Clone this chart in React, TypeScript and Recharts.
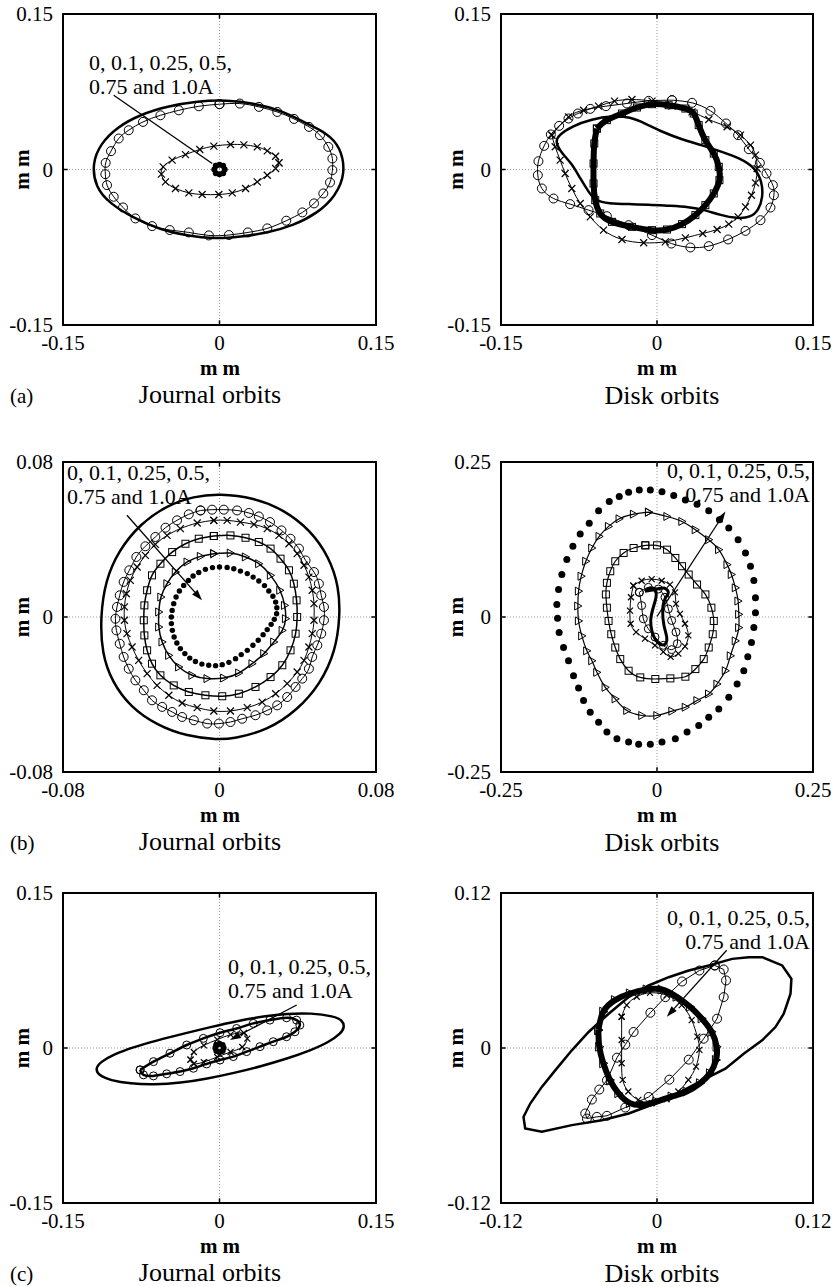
import React from "react";
import {
  ScatterChart,
  Scatter,
  XAxis,
  YAxis,
  ReferenceLine,
  ReferenceArea,
} from "recharts";

const SERIF = '"Liberation Serif", "Times New Roman", serif';

// ---- (a) journal orbits, mm ----
const aJournalSolid = [[0.121,-0.004],[0.116,0.022],[0.103,0.035],[0.084,0.044],[0.062,0.056],[0.033,0.064],[0.007,0.067],[-0.021,0.066],[-0.05,0.061],[-0.076,0.053],[-0.098,0.041],[-0.114,0.025],[-0.122,0.006],[-0.119,-0.017],[-0.105,-0.033],[-0.082,-0.047],[-0.057,-0.058],[-0.031,-0.064],[-0.005,-0.067],[0.02,-0.065],[0.046,-0.061],[0.071,-0.054],[0.094,-0.042],[0.111,-0.026]];
const aJournalCircle = [[0,0.063],[0.0195,0.0636],[0.0378,0.0604],[0.0554,0.0555],[0.0714,0.0488],[0.0858,0.0411],[0.0963,0.0331],[0.1043,0.0218],[0.1082,0.0106],[0.1082,-0.0006],[0.1059,-0.0125],[0.0995,-0.0231],[0.0906,-0.0327],[0.0794,-0.0414],[0.064,-0.0494],[0.0458,-0.0568],[0.0272,-0.0607],[0.009,-0.0632],[-0.0102,-0.0636],[-0.0294,-0.0607],[-0.0477,-0.0584],[-0.0646,-0.0546],[-0.0806,-0.0472],[-0.0925,-0.0366],[-0.1014,-0.0263],[-0.1078,-0.0151],[-0.1094,-0.0045],[-0.1091,0.0064],[-0.104,0.0177],[-0.0966,0.0299],[-0.087,0.0379],[-0.0733,0.0459],[-0.0566,0.0523],[-0.039,0.0571],[-0.0198,0.061]];
const aJournalCross = [[0.057,0.0064],[0.0538,0.0128],[0.0458,0.018],[0.0362,0.0218],[0.0234,0.0238],[0.0106,0.0241],[-0.0054,0.0225],[-0.0189,0.0193],[-0.0326,0.0144],[-0.0454,0.009],[-0.054,0.0026],[-0.0557,-0.0045],[-0.0518,-0.0119],[-0.0422,-0.0183],[-0.0294,-0.0225],[-0.0166,-0.0241],[-0.0006,-0.0241],[0.0122,-0.0225],[0.025,-0.0183],[0.0362,-0.0119],[0.0458,-0.0055],[0.0538,0.001]];
const aJournalCore = [[-0.0035,0.0035],[0,0.0045],[0.0035,0.0035],[0.005,0],[0.0035,-0.0035],[0,-0.0045],[-0.0035,-0.0035],[-0.005,0]];

// ---- (a) disk orbits ----
const aDiskCircle = [[0.0144,0.0669],[0.0337,0.0643],[0.0514,0.0566],[0.0664,0.0444],[0.078,0.0331],[0.0883,0.0196],[0.0989,0.0064],[0.1053,-0.0039],[0.1114,-0.0151],[0.1124,-0.0248],[0.1091,-0.0367],[0.0995,-0.0489],[0.0851,-0.0592],[0.0684,-0.0675],[0.0498,-0.0739],[0.0321,-0.0752],[0.0138,-0.0714],[-0.0048,-0.0633],[-0.0273,-0.0537],[-0.0482,-0.045],[-0.0658,-0.0392],[-0.0835,-0.0334],[-0.0995,-0.028],[-0.1107,-0.0183],[-0.1146,-0.0055],[-0.114,0.008],[-0.1085,0.0228],[-0.1021,0.0338],[-0.0941,0.0421],[-0.0851,0.0492],[-0.0761,0.054],[-0.0642,0.0585],[-0.0491,0.0611],[-0.0289,0.0637],[-0.008,0.0662]];
const aDiskCross = [[-0.1011,0.0331],[-0.0979,0.0219],[-0.0931,0.009],[-0.0883,-0.0039],[-0.0819,-0.0183],[-0.0738,-0.0328],[-0.0642,-0.0457],[-0.0514,-0.0585],[-0.0337,-0.0675],[-0.0128,-0.0707],[0.008,-0.0698],[0.0273,-0.0659],[0.044,-0.0617],[0.0578,-0.0579],[0.069,-0.0527],[0.078,-0.0457],[0.0851,-0.036],[0.0908,-0.0248],[0.0947,-0.0129],[0.0963,0.001],[0.0947,0.0138],[0.0899,0.0235],[0.0803,0.0331],[0.0674,0.0412],[0.0498,0.0482],[0.0337,0.0556],[0.0144,0.0611],[-0.0048,0.0659],[-0.0241,0.0675],[-0.0408,0.0659],[-0.0562,0.0611],[-0.0706,0.0572],[-0.0851,0.0508]];
const aDiskSolid = [[-0.0979,0.0267],[-0.0947,0.0331],[-0.0819,0.0418],[-0.0626,0.0485],[-0.0433,0.0518],[-0.0257,0.0508],[-0.0112,0.0444],[0.0048,0.0363],[0.0241,0.0289],[0.0433,0.0235],[0.0626,0.017],[0.0803,0.0106],[0.0941,0.0019],[0.1011,-0.0119],[0.1018,-0.0264],[0.0979,-0.0392],[0.0899,-0.0463],[0.077,-0.0473],[0.061,-0.044],[0.0465,-0.0392],[0.0305,-0.036],[0.0112,-0.035],[-0.008,-0.0338],[-0.0273,-0.0334],[-0.0465,-0.0328],[-0.0594,-0.0302],[-0.0658,-0.0215],[-0.0738,-0.0087],[-0.0819,0.0058],[-0.0915,0.0154]];
const aDiskBand = [[-0.0578,0.0395],[-0.0482,0.0476],[-0.0337,0.054],[-0.0193,0.0598],[-0.0048,0.063],[0.0112,0.062],[0.0273,0.0588],[0.0353,0.054],[0.0401,0.0428],[0.0465,0.0283],[0.0546,0.0154],[0.0594,0.0026],[0.06,-0.0103],[0.0546,-0.0231],[0.0465,-0.0344],[0.0369,-0.044],[0.0241,-0.0527],[0.0096,-0.0579],[-0.0048,-0.0585],[-0.0241,-0.0553],[-0.0433,-0.0505],[-0.0546,-0.0424],[-0.0594,-0.0296],[-0.061,-0.0135],[-0.061,0.0058],[-0.0603,0.0251]];

// ---- (b) journal orbits ----
const bJournalSolid = [[0,0.0636],[0.0176,0.0616],[0.0329,0.0554],[0.0466,0.0447],[0.056,0.031],[0.0611,0.0155],[0.0616,0],[0.0594,-0.0172],[0.0517,-0.0344],[0.0397,-0.0482],[0.0244,-0.0585],[0.0073,-0.0628],[-0.0012,-0.0633],[-0.0165,-0.0616],[-0.0319,-0.0559],[-0.0456,-0.0464],[-0.0549,-0.0335],[-0.0601,-0.0189],[-0.0609,0],[-0.0583,0.0189],[-0.0515,0.0344],[-0.0404,0.0482],[-0.0268,0.0576],[-0.0131,0.0623]];
const bJournalCircle = [[-0.0097,0.055],[-0.0038,0.0554],[0.0022,0.0554],[0.009,0.055],[0.015,0.0537],[0.0201,0.0519],[0.0258,0.049],[0.0317,0.0447],[0.0363,0.0404],[0.0406,0.0353],[0.044,0.0292],[0.0483,0.0232],[0.0508,0.0172],[0.052,0.0112],[0.0534,0.0052],[0.0534,-0.0017],[0.052,-0.0086],[0.05,-0.0146],[0.0474,-0.0206],[0.0457,-0.0267],[0.0423,-0.0318],[0.0389,-0.0361],[0.0346,-0.0413],[0.0295,-0.0456],[0.0244,-0.0482],[0.0184,-0.0507],[0.0116,-0.0525],[0.0056,-0.0542],[-0.0003,-0.055],[-0.0063,-0.055],[-0.0131,-0.0533],[-0.0191,-0.0516],[-0.0242,-0.049],[-0.0293,-0.0464],[-0.0345,-0.043],[-0.0387,-0.0378],[-0.043,-0.0327],[-0.0464,-0.0267],[-0.049,-0.0206],[-0.051,-0.0138],[-0.0527,-0.0069],[-0.0532,-0.0009],[-0.0524,0.0052],[-0.051,0.0112],[-0.049,0.0181],[-0.0461,0.0241],[-0.0425,0.031],[-0.0379,0.0365],[-0.0328,0.0413],[-0.0276,0.0461],[-0.0217,0.0499],[-0.0157,0.053]];
const bJournalCross = [[-0.0029,0.0499],[0.0039,0.0499],[0.0107,0.049],[0.0176,0.0478],[0.0244,0.0456],[0.0304,0.0421],[0.0355,0.0378],[0.0397,0.0327],[0.0432,0.0267],[0.0457,0.0206],[0.0474,0.0138],[0.0483,0.0069],[0.0483,-0.0017],[0.0474,-0.0086],[0.0457,-0.0155],[0.0432,-0.0224],[0.0397,-0.0284],[0.0346,-0.0344],[0.0287,-0.0396],[0.0218,-0.0439],[0.0142,-0.0468],[0.0056,-0.0485],[-0.0029,-0.0485],[-0.0114,-0.0468],[-0.0191,-0.0444],[-0.0259,-0.0404],[-0.0319,-0.0353],[-0.037,-0.0292],[-0.0413,-0.0224],[-0.0447,-0.0155],[-0.0473,-0.0086],[-0.0486,-0.0017],[-0.0486,0.0052],[-0.0476,0.012],[-0.0456,0.0189],[-0.0421,0.0258],[-0.0379,0.0318],[-0.0328,0.0375],[-0.0268,0.0421],[-0.02,0.0456],[-0.0114,0.0485]];
const bJournalSquare = [[-0.0029,0.0418],[0.0056,0.0421],[0.0133,0.0409],[0.0201,0.0387],[0.0261,0.0353],[0.0312,0.0301],[0.0355,0.0241],[0.038,0.0172],[0.0394,0.0086],[0.0397,0],[0.0389,-0.0086],[0.0363,-0.0172],[0.0321,-0.0249],[0.0261,-0.031],[0.0184,-0.0361],[0.0099,-0.0396],[0.0014,-0.0409],[-0.0072,-0.0404],[-0.0157,-0.0387],[-0.0234,-0.0353],[-0.0302,-0.0301],[-0.0345,-0.0241],[-0.037,-0.0172],[-0.0384,-0.0095],[-0.0387,-0.0017],[-0.0384,0.006],[-0.037,0.0138],[-0.0345,0.0215],[-0.0302,0.0275],[-0.0242,0.0335],[-0.0174,0.0378],[-0.0106,0.0404]];
const bJournalTri = [[-0.0029,0.0327],[0.0056,0.033],[0.0133,0.031],[0.0201,0.0275],[0.0261,0.0215],[0.0309,0.0138],[0.0333,0.006],[0.0338,-0.0009],[0.0321,-0.0069],[0.0278,-0.0129],[0.0227,-0.0189],[0.0167,-0.0241],[0.0099,-0.0289],[0.0022,-0.0315],[-0.0063,-0.0318],[-0.014,-0.0301],[-0.0208,-0.0258],[-0.0259,-0.0198],[-0.0293,-0.0129],[-0.031,-0.0052],[-0.031,0.0026],[-0.0299,0.0103],[-0.0268,0.0172],[-0.0225,0.0232],[-0.0165,0.0284],[-0.0097,0.0313]];
const bJournalDot = [[0,0.0258],[0.0039,0.0256],[0.0073,0.0249],[0.0107,0.0237],[0.0142,0.0224],[0.0172,0.0206],[0.0201,0.0186],[0.023,0.0162],[0.0252,0.0134],[0.0273,0.0107],[0.0287,0.0077],[0.0293,0.0048],[0.0292,0.0017],[0.028,-0.0012],[0.0264,-0.0038],[0.0244,-0.0065],[0.0223,-0.0091],[0.0198,-0.012],[0.0171,-0.0146],[0.0142,-0.0172],[0.0111,-0.0194],[0.0082,-0.0215],[0.0048,-0.0234],[0.0014,-0.0246],[-0.002,-0.0251],[-0.0055,-0.0249],[-0.009,-0.0243],[-0.0123,-0.023],[-0.0152,-0.0212],[-0.0177,-0.0189],[-0.02,-0.0163],[-0.0218,-0.0134],[-0.0232,-0.0103],[-0.0241,-0.0069],[-0.0246,-0.0034],[-0.0246,0],[-0.0242,0.0034],[-0.0234,0.0069],[-0.0222,0.0103],[-0.0205,0.0134],[-0.0183,0.0163],[-0.0159,0.0189],[-0.0135,0.0212],[-0.0106,0.023],[-0.0072,0.0246],[-0.0036,0.0255]];

// ---- (b) disk orbits ----
const bDiskDot = [[-0.0107,0.2049],[0.008,0.2022],[0.0268,0.1958],[0.0455,0.1889],[0.0642,0.1819],[0.0829,0.1712],[0.1,0.1568],[0.115,0.1434],[0.13,0.1247],[0.1418,0.1033],[0.1498,0.0819],[0.1552,0.0589],[0.1578,0.031],[0.1578,0.007],[0.1552,-0.0171],[0.1514,-0.0412],[0.1455,-0.0642],[0.1391,-0.0867],[0.1284,-0.1081],[0.115,-0.1295],[0.099,-0.1482],[0.0829,-0.1616],[0.0669,-0.1749],[0.0482,-0.1856],[0.0294,-0.1963],[0.008,-0.2017],[-0.0107,-0.2054],[-0.0294,-0.2054],[-0.0455,-0.2017],[-0.0642,-0.1963],[-0.0803,-0.1856],[-0.0936,-0.1696],[-0.107,-0.1535],[-0.1177,-0.1348],[-0.1257,-0.1145],[-0.1338,-0.0947],[-0.1418,-0.0706],[-0.1498,-0.0492],[-0.1568,-0.0251],[-0.1594,-0.0021],[-0.1605,0.0203],[-0.1578,0.0444],[-0.1525,0.0685],[-0.1445,0.0926],[-0.1348,0.114],[-0.1231,0.1338],[-0.1086,0.1514],[-0.0936,0.1712],[-0.0765,0.1862],[-0.0605,0.1942],[-0.0455,0.2012],[-0.0284,0.2049]];
const bDiskTri = [[-0.0134,0.1691],[-0.0375,0.1659],[-0.0605,0.1584],[-0.0776,0.1461],[-0.0926,0.13],[-0.1043,0.1113],[-0.114,0.0899],[-0.1214,0.0658],[-0.1257,0.0417],[-0.1268,0.0177],[-0.1257,-0.0064],[-0.1204,-0.0305],[-0.1124,-0.0546],[-0.1043,-0.0706],[-0.0963,-0.0893],[-0.0829,-0.1134],[-0.0669,-0.1321],[-0.0482,-0.1509],[-0.0241,-0.1589],[0,-0.1589],[0.0241,-0.1519],[0.0455,-0.1455],[0.0642,-0.1348],[0.0829,-0.1241],[0.0963,-0.1081],[0.1097,-0.0867],[0.1177,-0.0626],[0.1257,-0.0385],[0.1311,-0.0171],[0.1311,0.0043],[0.13,0.0257],[0.1257,0.0471],[0.1193,0.0685],[0.1124,0.0845],[0.099,0.1086],[0.0829,0.1247],[0.0615,0.1407],[0.0401,0.1541],[0.0161,0.1621]];
const bDiskSquare = [[-0.0187,0.1156],[-0.0375,0.1113],[-0.0535,0.1033],[-0.0669,0.0899],[-0.0749,0.0738],[-0.0803,0.0551],[-0.0819,0.0364],[-0.0803,0.015],[-0.0776,-0.0064],[-0.0733,-0.0278],[-0.0669,-0.0492],[-0.0589,-0.0679],[-0.0455,-0.0867],[-0.0268,-0.0974],[-0.0027,-0.1],[0.0214,-0.099],[0.0455,-0.0963],[0.0615,-0.084],[0.0749,-0.0679],[0.0829,-0.0492],[0.0893,-0.0278],[0.091,-0.0064],[0.0872,0.015],[0.0776,0.0364],[0.0642,0.0524],[0.0508,0.0685],[0.0401,0.0819],[0.0294,0.0952],[0.0161,0.1086],[0,0.1156]];
const bDiskCross = [[-0.0379,0.0505],[-0.0246,0.0585],[-0.0085,0.0611],[0.0075,0.0585],[0.0208,0.0521],[0.0288,0.0398],[0.0304,0.0211],[0.0368,0.0051],[0.0449,-0.0109],[0.0502,-0.0296],[0.0449,-0.0473],[0.0342,-0.059],[0.0219,-0.0643],[0.0101,-0.0563],[-0.0032,-0.0457],[-0.0192,-0.035],[-0.0336,-0.0243],[-0.0422,-0.0109],[-0.0433,0.0104],[-0.0417,0.0318]];
const bDiskCircle = [[-0.0283,0.0398],[-0.0246,0.0184],[-0.0219,-0.0029],[-0.0139,-0.019],[-0.0032,-0.0323],[0.0101,-0.0457],[0.0235,-0.0526],[0.0326,-0.043],[0.0304,-0.0243],[0.0235,-0.0056],[0.0182,0.0131],[0.0128,0.0318],[0.0021,0.0451],[-0.0139,0.0478]];
const bDiskSolid = [[-0.0192,0.0414],[-0.0112,0.0467],[-0.0032,0.0435],[-0.0016,0.0318],[-0.0059,0.0158],[-0.0101,-0.0056],[-0.0069,-0.027],[0.0021,-0.0419],[0.0128,-0.0441],[0.0155,-0.0323],[0.0112,-0.0136],[0.0091,0.0104],[0.0128,0.0291],[0.0182,0.0398],[0.0112,0.0467],[0.0005,0.0451]];

// ---- (c) journal orbits ----
const cJournalSolid = [[0.1098,0.0307],[0.1178,0.0268],[0.12,0.0203],[0.1162,0.0139],[0.105,0.0058],[0.0874,-0.0023],[0.065,-0.0103],[0.0394,-0.0178],[0.0138,-0.0242],[-0.0118,-0.0297],[-0.0374,-0.0339],[-0.063,-0.0355],[-0.0854,-0.0346],[-0.1046,-0.0313],[-0.1158,-0.0265],[-0.119,-0.02],[-0.1142,-0.0136],[-0.1014,-0.0061],[-0.0822,0.001],[-0.0598,0.0074],[-0.0342,0.0139],[-0.0086,0.0203],[0.017,0.0262],[0.0426,0.0307],[0.065,0.0333],[0.0874,0.0339]];
const cJournalCircle = [[-0.0761,-0.0212],[-0.0633,-0.0132],[-0.0474,-0.0051],[-0.0314,0.0029],[-0.0155,0.0093],[0.0005,0.0148],[0.0164,0.0189],[0.0324,0.0238],[0.0483,0.027],[0.0643,0.0292],[0.0739,0.027],[0.077,0.0221],[0.0723,0.0157],[0.0643,0.0109],[0.0515,0.0061],[0.0388,0.0013],[0.026,-0.0035],[0.0132,-0.0083],[0.0005,-0.0116],[-0.0123,-0.0154],[-0.025,-0.0196],[-0.0378,-0.0228],[-0.0506,-0.025],[-0.0633,-0.027],[-0.0729,-0.026]];
const cJournalCross = [[-0.0278,-0.0113],[-0.0246,-0.0039],[-0.015,0.0026],[-0.0022,0.0081],[0.0106,0.0129],[0.0234,0.0145],[0.0266,0.009],[0.0218,0.001],[0.0106,-0.0039],[-0.0022,-0.0087],[-0.015,-0.0136],[-0.0246,-0.0152]];
const cJournalCore = [[-0.003,0.003],[0,0.004],[0.003,0.003],[0.004,0],[0.003,-0.003],[0,-0.004],[-0.003,-0.003],[-0.004,0]];

// ---- (c) disk orbits ----
const cDiskSolid = [[0.0809,0.0703],[0.0963,0.0639],[0.1034,0.0536],[0.1027,0.042],[0.0975,0.0265],[0.0911,0.0162],[0.0809,0.0059],[0.0667,-0.0044],[0.0526,-0.016],[0.0347,-0.025],[0.0167,-0.0348],[-0.0013,-0.043],[-0.0218,-0.0507],[-0.0424,-0.0559],[-0.0655,-0.0597],[-0.0886,-0.0649],[-0.1014,-0.0623],[-0.1027,-0.0533],[-0.0975,-0.043],[-0.0886,-0.0301],[-0.0783,-0.0173],[-0.0655,-0.0018],[-0.0526,0.0124],[-0.0372,0.0265],[-0.0218,0.0394],[-0.0064,0.0484],[0.009,0.0548],[0.0244,0.06],[0.0398,0.0639],[0.0578,0.069],[0.0706,0.0703]];
const cDiskCircle = [[0.0444,0.0639],[0.0513,0.0608],[0.0531,0.0523],[0.0513,0.0394],[0.0462,0.0227],[0.0359,0.0072],[0.0244,-0.009],[0.0095,-0.0245],[-0.0064,-0.0379],[-0.0244,-0.0461],[-0.0385,-0.0525],[-0.0462,-0.0533],[-0.0539,-0.0546],[-0.0552,-0.0507],[-0.0501,-0.0399],[-0.0444,-0.0322],[-0.0385,-0.025],[-0.0308,-0.0075],[-0.0244,0.0026],[-0.018,0.0124],[-0.0051,0.0273],[0.0064,0.0394],[0.0193,0.0515],[0.0326,0.06]];
const cDiskCross = [[-0.0272,0.0242],[-0.0233,0.0332],[-0.0156,0.0397],[-0.0054,0.0427],[0.0074,0.0409],[0.019,0.0332],[0.0267,0.0216],[0.031,0.0088],[0.0326,-0.0015],[0.03,-0.0144],[0.0241,-0.0247],[0.0164,-0.0337],[0.0074,-0.0397],[-0.0041,-0.0427],[-0.0144,-0.0402],[-0.0221,-0.0337],[-0.0264,-0.0247],[-0.0272,-0.0118],[-0.0272,0.0062]];
const cDiskBand = [[-0.0451,0.0139],[-0.0413,0.0281],[-0.0323,0.0371],[-0.0208,0.0422],[-0.0079,0.0453],[0.0036,0.0453],[0.0151,0.0397],[0.0254,0.0319],[0.0344,0.0229],[0.042,0.0126],[0.0459,0.001],[0.0454,-0.0093],[0.0408,-0.0196],[0.0331,-0.0273],[0.0228,-0.0337],[0.0113,-0.0376],[-0.0003,-0.0415],[-0.0105,-0.044],[-0.0208,-0.0427],[-0.0297,-0.035],[-0.0362,-0.0247],[-0.0413,-0.0118],[-0.0444,0.001]];

// annotation arrows (data coords): from, to
const aJournalArrow = [[-0.1014, 0.0716], [-0.007, 0.0058]];
const bJournalArrow = [[-0.0473, 0.0525], [-0.0089, 0.0086]];
const bDiskArrow = [[0, 0.0008], [0.1097, 0.1701]];
const cJournalArrow = [[0.074, 0.0416], [0.01, 0.0077]];
const cDiskArrow = [[0.0536, 0.0757], [0.0075, 0.0242]];

const noteLines = ["0, 0.1, 0.25, 0.5,", "0.75 and 1.0A"];
const rowLetters = ["(a)", "(b)", "(c)"];
const colTitles = ["Journal orbits", "Disk orbits"];
const axisUnit = "m m";

type Mark = "none" | "circle" | "cross" | "square" | "tri" | "dot";
type Curve = "natural" | "linear" | "basisClosed" | "linearClosed";
type Layer = { pts: number[][]; mark: Mark; size: number; lw: number; link?: boolean; curve?: Curve };
type PanelDef = {
  x: number; y: number; w: number; h: number; lim: number; mr: number;
  layers: Layer[]; arrow: number[][]; head: boolean;
};

const toPts = (a: number[][], close: boolean) =>
  (close ? [...a, a[0]] : a).map(([x, y]) => ({ x, y }));

function marker(kind: Mark, s: number) {
  return (p: any) => {
    const { cx, cy } = p;
    if (cx == null || cy == null || kind === "none") return <g />;
    if (kind === "circle")
      return <circle cx={cx} cy={cy} r={s} fill="none" stroke="#000" strokeWidth={1} />;
    if (kind === "cross")
      return (
        <path
          d={`M${cx - s},${cy - s}L${cx + s},${cy + s}M${cx - s},${cy + s}L${cx + s},${cy - s}`}
          stroke="#000"
          strokeWidth={1.2}
        />
      );
    if (kind === "square")
      return <rect x={cx - s} y={cy - s} width={2 * s} height={2 * s} fill="none" stroke="#000" strokeWidth={1} />;
    if (kind === "tri")
      return (
        <path d={`M${cx + s},${cy}L${cx - s * 0.8},${cy - s}L${cx - s * 0.8},${cy + s}Z`} fill="none" stroke="#000" strokeWidth={1} />
      );
    return <circle cx={cx} cy={cy} r={s} fill="#000" />;
  };
}

const arrowShape = (head: boolean) => (p: any) => {
  const { x1, y1, x2, y2 } = p;
  const a = Math.atan2(y2 - y1, x2 - x1);
  const L = 11;
  const W = 3.5;
  const bx = x2 - L * Math.cos(a);
  const by = y2 - L * Math.sin(a);
  const px = -Math.sin(a) * W;
  const py = Math.cos(a) * W;
  return (
    <g>
      <line x1={x1} y1={y1} x2={head ? bx : x2} y2={head ? by : y2} stroke="#000" strokeWidth={1.3} />
      {head && <polygon points={`${x2},${y2} ${bx + px},${by + py} ${bx - px},${by - py}`} fill="#000" />}
    </g>
  );
};

const tickStyle = { fontSize: 21, fontFamily: SERIF, fill: "#000" };

function Panel({ p }: { p: PanelDef }) {
  const ml = 60;
  const mt = 20;
  const mb = 45;
  const { lim } = p;
  const t = lim * 0.03;
  return (
    <div style={{ position: "absolute", left: p.x - ml, top: p.y - mt }}>
      <ScatterChart
        width={p.w + ml + p.mr}
        height={p.h + mt + mb}
        margin={{ top: mt, right: p.mr, bottom: 0, left: 0 }}
      >
        <XAxis
          type="number"
          dataKey="x"
          domain={[-lim, lim]}
          ticks={[-lim, 0, lim]}
          interval={0}
          allowDataOverflow
          axisLine={false}
          tickLine={false}
          tickMargin={4}
          height={mb}
          tick={tickStyle}
        />
        <YAxis
          type="number"
          dataKey="y"
          domain={[-lim, lim]}
          ticks={[-lim, 0, lim]}
          interval={0}
          allowDataOverflow
          axisLine={false}
          tickLine={false}
          tickMargin={4}
          width={ml}
          tick={tickStyle}
        />
        <ReferenceLine x={0} stroke="#999" strokeDasharray="1 2" />
        <ReferenceLine y={0} stroke="#999" strokeDasharray="1 2" />
        <ReferenceLine segment={[{ x: 0, y: lim }, { x: 0, y: lim - t }]} stroke="#000" strokeWidth={1.5} />
        <ReferenceLine segment={[{ x: 0, y: -lim }, { x: 0, y: -lim + t }]} stroke="#000" strokeWidth={1.5} />
        <ReferenceLine segment={[{ x: -lim, y: 0 }, { x: -lim + t, y: 0 }]} stroke="#000" strokeWidth={1.5} />
        <ReferenceLine segment={[{ x: lim, y: 0 }, { x: lim - t, y: 0 }]} stroke="#000" strokeWidth={1.5} />
        {p.layers.map((l, i) => {
          const curve = l.curve ?? "natural";
          const selfClosing = curve === "basisClosed" || curve === "linearClosed";
          return (
            <Scatter
              key={i}
              data={toPts(l.pts, l.link !== false && !selfClosing)}
              line={l.link === false ? false : { stroke: "#000", strokeWidth: l.lw, fill: "none" }}
              lineType="joint"
              lineJointType={curve}
              shape={marker(l.mark, l.size)}
              isAnimationActive={false}
            />
          );
        })}
        <ReferenceLine
          segment={[
            { x: p.arrow[0][0], y: p.arrow[0][1] },
            { x: p.arrow[1][0], y: p.arrow[1][1] },
          ]}
          shape={arrowShape(p.head)}
        />
        <ReferenceArea
          x1={-lim}
          x2={lim}
          y1={-lim}
          y2={lim}
          fill="none"
          fillOpacity={0}
          stroke="#000"
          strokeWidth={2}
        />
      </ScatterChart>
    </div>
  );
}

const panels: PanelDef[] = [
  {
    x: 63, y: 14, w: 313, h: 311, lim: 0.15, mr: 30, head: false, arrow: aJournalArrow,
    layers: [
      { pts: aJournalSolid, mark: "none", size: 0, lw: 2.5, curve: "basisClosed" },
      { pts: aJournalCircle, mark: "circle", size: 4.5, lw: 1 },
      { pts: aJournalCross, mark: "cross", size: 3.5, lw: 1 },
      { pts: aJournalCore, mark: "dot", size: 3, lw: 4 },
    ],
  },
  {
    x: 501, y: 14, w: 312, h: 311, lim: 0.15, mr: 20, head: false, arrow: [[0, 0], [0, 0]],
    layers: [
      { pts: aDiskCircle, mark: "circle", size: 4.5, lw: 1 },
      { pts: aDiskCross, mark: "cross", size: 3.5, lw: 1 },
      { pts: aDiskSolid, mark: "none", size: 0, lw: 2.5, curve: "basisClosed" },
      { pts: aDiskBand, mark: "square", size: 3.5, lw: 6 },
    ],
  },
  {
    x: 63, y: 462, w: 313, h: 310, lim: 0.08, mr: 30, head: true, arrow: bJournalArrow,
    layers: [
      { pts: bJournalSolid, mark: "none", size: 0, lw: 2.5, curve: "basisClosed" },
      { pts: bJournalCircle, mark: "circle", size: 4.5, lw: 1 },
      { pts: bJournalCross, mark: "cross", size: 3.5, lw: 1 },
      { pts: bJournalSquare, mark: "square", size: 3.5, lw: 1.5 },
      { pts: bJournalTri, mark: "tri", size: 4, lw: 1.5 },
      { pts: bJournalDot, mark: "dot", size: 2.7, lw: 0, link: false },
    ],
  },
  {
    x: 501, y: 462, w: 312, h: 310, lim: 0.25, mr: 20, head: true, arrow: bDiskArrow,
    layers: [
      { pts: bDiskDot, mark: "dot", size: 3.5, lw: 0, link: false },
      { pts: bDiskTri, mark: "tri", size: 4, lw: 1.2 },
      { pts: bDiskSquare, mark: "square", size: 3.5, lw: 1.2 },
      { pts: bDiskCross, mark: "cross", size: 3, lw: 1 },
      { pts: bDiskCircle, mark: "circle", size: 4, lw: 1 },
      { pts: bDiskSolid, mark: "none", size: 0, lw: 3 },
    ],
  },
  {
    x: 63, y: 893, w: 313, h: 310, lim: 0.15, mr: 30, head: true, arrow: cJournalArrow,
    layers: [
      { pts: cJournalSolid, mark: "none", size: 0, lw: 2.5, curve: "basisClosed" },
      { pts: cJournalCircle, mark: "circle", size: 4, lw: 2.5 },
      { pts: cJournalCross, mark: "cross", size: 3, lw: 1 },
      { pts: cJournalCore, mark: "dot", size: 3, lw: 4 },
    ],
  },
  {
    x: 501, y: 893, w: 312, h: 310, lim: 0.12, mr: 20, head: true, arrow: cDiskArrow,
    layers: [
      { pts: cDiskSolid, mark: "none", size: 0, lw: 2.5, curve: "linearClosed" },
      { pts: cDiskBand, mark: "tri", size: 4.5, lw: 6 },
      { pts: cDiskCross, mark: "cross", size: 3, lw: 1 },
      { pts: cDiskCircle, mark: "circle", size: 4.5, lw: 1, curve: "linear" },
    ],
  },
];

// note text anchors: [x, first baseline, anchor]
const notes: [number, number, "start" | "end"][] = [
  [89, 70, "start"],
  [67, 480, "start"],
  [810, 478, "end"],
  [228, 974, "start"],
  [810, 925, "end"],
];

export default function App() {
  return (
    <div style={{ position: "absolute", left: 0, top: 0, width: 835, height: 1287, overflow: "hidden", background: "#fff" }}>
      {panels.map((p, i) => (
        <Panel key={i} p={p} />
      ))}
      <svg width={835} height={1287} style={{ position: "absolute", left: 0, top: 0, pointerEvents: "none" }}>
        <g fontFamily={SERIF} fill="#000">
          {notes.map(([x, y, anchor], i) => (
            <g key={i} fontSize={22} textAnchor={anchor}>
              <text x={x} y={y}>{noteLines[0]}</text>
              <text x={x} y={y + 24}>{noteLines[1]}</text>
            </g>
          ))}
          {[0, 1, 2].map((r) => {
            const bottom = panels[r * 2].y + panels[r * 2].h;
            const mid = panels[r * 2].y + panels[r * 2].h / 2;
            return (
              <g key={r}>
                <text x={10} y={bottom + 78} fontSize={21}>{rowLetters[r]}</text>
                <text x={210} y={bottom + 78} fontSize={26} textAnchor="middle">{colTitles[0]}</text>
                <text x={662} y={bottom + 79} fontSize={26} textAnchor="middle">{colTitles[1]}</text>
                <text x={220} y={bottom + 50} fontSize={21} fontWeight="bold" textAnchor="middle">{axisUnit}</text>
                <text x={657} y={bottom + 50} fontSize={21} fontWeight="bold" textAnchor="middle">{axisUnit}</text>
                <text x={22} y={mid} fontSize={21} fontWeight="bold" textAnchor="middle" dominantBaseline="central" transform={`rotate(-90 22 ${mid})`}>{axisUnit}</text>
                <text x={456} y={mid} fontSize={21} fontWeight="bold" textAnchor="middle" dominantBaseline="central" transform={`rotate(-90 456 ${mid})`}>{axisUnit}</text>
              </g>
            );
          })}
        </g>
      </svg>
    </div>
  );
}
